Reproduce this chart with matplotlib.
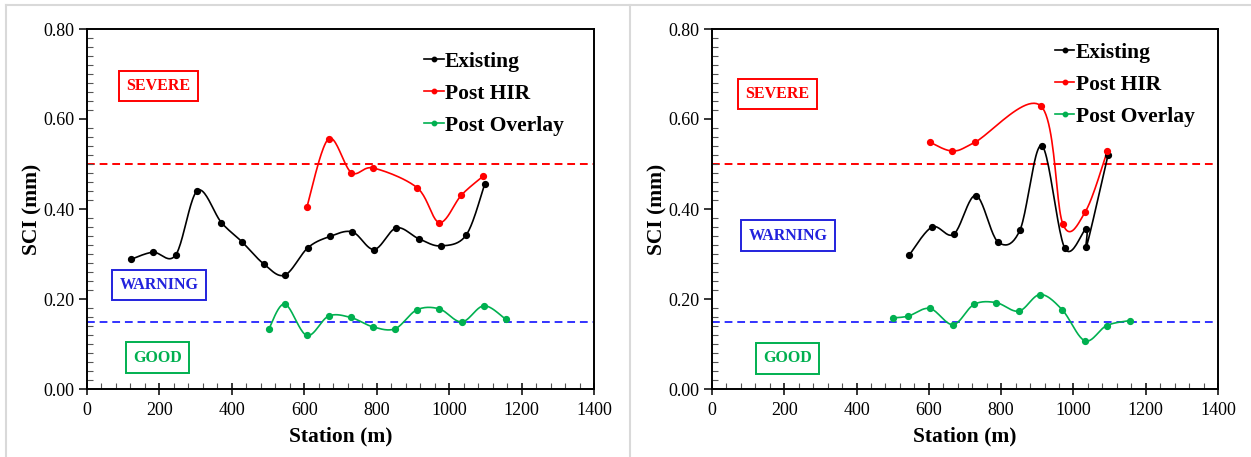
import numpy as np
import matplotlib
matplotlib.use("Agg")
import matplotlib.pyplot as plt
from matplotlib.lines import Line2D

plt.rcParams['font.family'] = ['Liberation Serif', 'DejaVu Serif']

# SCI readings along the test section (station in m, SCI in mm)
# --- left section ---
st_exist_a = [121, 182, 245, 305, 371, 428, 488, 546, 610, 671, 733, 793, 854, 916, 977, 1047, 1098]
sci_exist_a = [0.288, 0.304, 0.298, 0.441, 0.370, 0.327, 0.278, 0.253, 0.314, 0.339, 0.349,
               0.310, 0.358, 0.334, 0.318, 0.342, 0.455]
st_hir_a = [607, 667, 730, 791, 912, 973, 1034, 1094]
sci_hir_a = [0.404, 0.556, 0.481, 0.491, 0.447, 0.370, 0.431, 0.473]
st_ovl_a = [502, 546, 607, 667, 728, 790, 851, 911, 973, 1035, 1096, 1156]
sci_ovl_a = [0.133, 0.189, 0.119, 0.162, 0.159, 0.138, 0.134, 0.176, 0.178, 0.149, 0.185, 0.155]

# --- right section ---
st_exist_b = [546, 609, 669, 730, 791, 852, 912, 976, 1035, 1036, 1096]
sci_exist_b = [0.298, 0.360, 0.344, 0.430, 0.327, 0.353, 0.541, 0.313, 0.356, 0.316, 0.521]
st_hir_b = [604, 665, 727, 910, 971, 1033, 1094]
sci_hir_b = [0.548, 0.529, 0.548, 0.629, 0.366, 0.394, 0.529]
st_ovl_b = [500, 543, 603, 667, 725, 786, 849, 908, 969, 1032, 1092, 1156]
sci_ovl_b = [0.158, 0.162, 0.179, 0.143, 0.188, 0.192, 0.173, 0.210, 0.176, 0.107, 0.141, 0.152]

severe_limit = 0.50
warning_limit = 0.15

series_names = ['Existing', 'Post HIR', 'Post Overlay']
series_colors = ['black', '#FF0000', '#00B050']


def smooth(x, y, n=24):
    # Bezier smoothing through every point (Catmull-Rom style control points)
    p = np.column_stack([x, y]).astype(float)
    p = np.vstack([p[0], p, p[-1]])
    out = []
    t = np.linspace(0, 1, n)[:, None]
    for i in range(1, len(p) - 2):
        p0, p1, p2, p3 = p[i - 1], p[i], p[i + 1], p[i + 2]
        c1 = p1 + (p2 - p0) / 6
        c2 = p2 - (p3 - p1) / 6
        seg = ((1 - t) ** 3) * p1 + 3 * ((1 - t) ** 2) * t * c1 + 3 * (1 - t) * t ** 2 * c2 + t ** 3 * p2
        out.append(seg if i == 1 else seg[1:])
    seg = np.vstack(out)
    return seg[:, 0], seg[:, 1]


def draw_panel(ax, data, box_pos, leg_anchor):
    ax.axhline(severe_limit, color='#FF0000', lw=1.4, ls=(0, (4, 2.5)), zorder=1)
    ax.axhline(warning_limit, color='#3333FF', lw=1.4, ls=(0, (4, 2.5)), zorder=1)

    for (xs, ys), c in zip(data, series_colors):
        sx, sy = smooth(xs, ys)
        ax.plot(sx, sy, color=c, lw=1.2, zorder=3)
        ax.plot(xs, ys, 'o', color=c, ms=4.2, zorder=4)

    labels = [('SEVERE', '#FF0000'), ('WARNING', '#2222DD'), ('GOOD', '#00B050')]
    for (txt, c), (bx, by) in zip(labels, box_pos):
        ax.text(bx, by, txt, color=c, fontsize=11.5, fontweight='bold', ha='center', va='center',
                bbox=dict(boxstyle='square,pad=0.45', fc='white', ec=c, lw=1.4), zorder=5)

    handles = [Line2D([], [], color=c, lw=1.2, marker='o', ms=3.2) for c in series_colors]
    ax.legend(handles, series_names, loc='upper left', bbox_to_anchor=leg_anchor, frameon=False,
              prop={'size': 15.5, 'weight': 'bold'}, handlelength=0.9, handletextpad=0.05,
              labelspacing=0.55, borderpad=0, borderaxespad=0)

    ax.set_xlim(0, 1400)
    ax.set_ylim(0, 0.8)
    ax.set_xticks(np.arange(0, 1401, 200))
    ax.set_yticks(np.arange(0, 0.81, 0.2))
    ax.set_yticklabels([f'{v:.2f}' for v in np.arange(0, 0.81, 0.2)])
    ax.set_xticks(np.arange(0, 1401, 40), minor=True)
    ax.set_yticks(np.arange(0, 0.801, 0.02), minor=True)
    ax.tick_params(axis='x', which='major', direction='inout', length=9, width=1.1, labelsize=13, pad=5)
    ax.tick_params(axis='y', which='major', direction='out', length=6, width=1.1, labelsize=13, pad=3)
    ax.tick_params(which='minor', direction='in', length=4, width=0.8, color='#555555')
    for sp in ax.spines.values():
        sp.set_linewidth(1.4)
    ax.set_xlabel('Station (m)', fontsize=15.5, fontweight='bold', labelpad=5)
    ax.set_ylabel('SCI (mm)', fontsize=15.5, fontweight='bold', labelpad=1)


fig = plt.figure(figsize=(12.51, 4.57), dpi=100)
ax1 = fig.add_axes([87 / 1251, 68 / 457, 507 / 1251, 360 / 457])
ax2 = fig.add_axes([712 / 1251, 68 / 457, 506 / 1251, 360 / 457])

draw_panel(ax1,
           [(st_exist_a, sci_exist_a), (st_hir_a, sci_hir_a), (st_ovl_a, sci_ovl_a)],
           [(197, 0.674), (199, 0.231), (195, 0.070)],
           (0.665, 0.937))
draw_panel(ax2,
           [(st_exist_b, sci_exist_b), (st_hir_b, sci_hir_b), (st_ovl_b, sci_ovl_b)],
           [(181, 0.656), (210, 0.341), (209, 0.068)],
           (0.678, 0.962))

# light frames around the two panels
frame = dict(color='#D9D9D9', lw=1.5, transform=fig.transFigure)
fig.add_artist(Line2D([6 / 1251, 1], [1 - 5 / 457, 1 - 5 / 457], **frame))
fig.add_artist(Line2D([6 / 1251, 6 / 1251], [0, 1 - 5 / 457], **frame))
fig.add_artist(Line2D([630 / 1251, 630 / 1251], [0, 1 - 5 / 457], **frame))

fig.savefig('out.png', dpi=100)
